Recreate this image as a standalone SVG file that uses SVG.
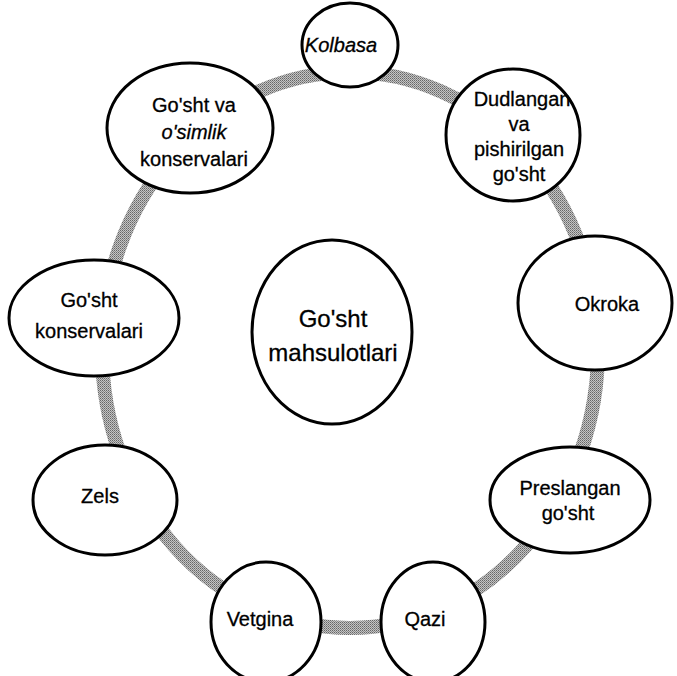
<svg xmlns="http://www.w3.org/2000/svg" width="677" height="676" viewBox="0 0 677 676">
  <defs>
    <pattern id="dither" width="2" height="2" patternUnits="userSpaceOnUse">
      <rect width="2" height="2" fill="#c4c4c4"/>
      <rect width="1" height="1" fill="#666666"/>
      <rect x="1" y="1" width="1" height="1" fill="#888888"/>
    </pattern>
    <style>
      .node ellipse { fill: #ffffff; stroke: #000000; stroke-width: 3; }
      .node text { font-family: "Liberation Sans", Arial, sans-serif; font-size: 20px; fill: #000000; stroke: #000000; stroke-width: 0.3; text-anchor: middle; }
      .node text.big { font-size: 24px; }
      .it { font-style: italic; }
      .ring { fill: none; stroke: url(#dither); stroke-width: 14; }
    </style>
  </defs>
  <rect width="677" height="676" fill="#ffffff"/>

  <!-- ring that links the outer products -->
  <g id="connectors">
    <ellipse class="ring" cx="350" cy="350" rx="248" ry="278"/>
  </g>

  <g id="center" class="node">
    <ellipse cx="332" cy="332" rx="80" ry="92"/>
    <text class="big" x="333" y="327">Go'sht</text>
    <text class="big" x="333" y="361">mahsulotlari</text>
  </g>

  <g id="kolbasa" class="node">
    <ellipse cx="350" cy="45" rx="48" ry="42"/>
    <text class="it" x="341" y="52">Kolbasa</text>
  </g>

  <g id="dudlangan" class="node">
    <ellipse cx="513" cy="135" rx="67" ry="66"/>
    <text x="522" y="106">Dudlangan</text>
    <text x="519" y="131">va</text>
    <text x="519" y="156">pishirilgan</text>
    <text x="519" y="181">go'sht</text>
  </g>

  <g id="okroka" class="node">
    <ellipse cx="595" cy="303" rx="77" ry="67"/>
    <text x="607" y="311">Okroka</text>
  </g>

  <g id="preslangan" class="node">
    <ellipse cx="570" cy="500" rx="80" ry="53"/>
    <text x="570" y="495">Preslangan</text>
    <text x="568" y="520">go'sht</text>
  </g>

  <g id="qazi" class="node">
    <ellipse cx="433" cy="622" rx="52" ry="60"/>
    <text x="425" y="626">Qazi</text>
  </g>

  <g id="vetgina" class="node">
    <ellipse cx="266" cy="622" rx="55" ry="60"/>
    <text x="260" y="626">Vetgina</text>
  </g>

  <g id="zels" class="node">
    <ellipse cx="105" cy="500" rx="72" ry="55"/>
    <text x="100" y="503">Zels</text>
  </g>

  <g id="konservalari" class="node">
    <ellipse cx="94" cy="318" rx="85" ry="58"/>
    <text x="89" y="307">Go'sht</text>
    <text x="89" y="338">konservalari</text>
  </g>

  <g id="osimlik" class="node">
    <ellipse cx="190" cy="128" rx="83" ry="65"/>
    <text x="194" y="112">Go'sht va</text>
    <text class="it" x="194" y="139">o'simlik</text>
    <text x="194" y="166">konservalari</text>
  </g>
</svg>
